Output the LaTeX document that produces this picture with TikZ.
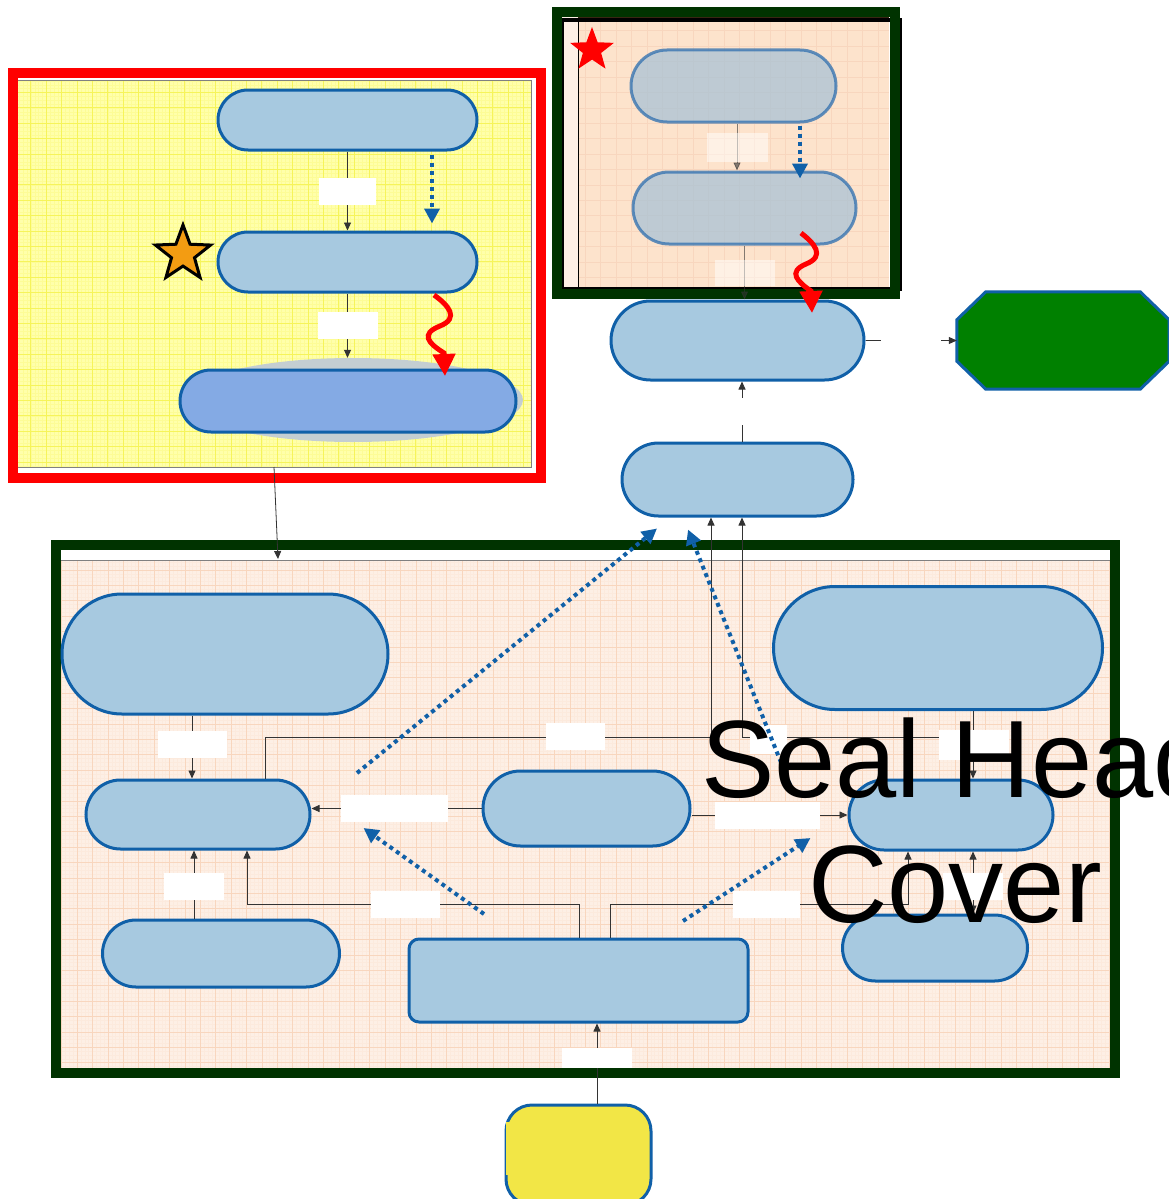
\documentclass[tikz,border=0pt]{standalone}
\usepackage{fontspec}
\setmainfont{Liberation Sans}
\usepackage{tikz}
\usetikzlibrary{arrows.meta,shapes.geometric}

\definecolor{nodefill}{HTML}{A7C9E0}
\definecolor{nodeline}{HTML}{1060A8}
\definecolor{deepfill}{HTML}{84AAE4}
\definecolor{shadowgray}{HTML}{C4CED2}
\definecolor{framegreen}{HTML}{003300}
\definecolor{octgreen}{HTML}{008000}
\definecolor{paleyellow}{HTML}{FFFFAA}
\definecolor{gridyellow}{HTML}{F6F45A}
\definecolor{peach}{HTML}{FDEFE5}
\definecolor{peachdark}{HTML}{FDE3CC}
\definecolor{gridpeach}{HTML}{F8D6BE}
\definecolor{starorange}{HTML}{F39C12}
\definecolor{termyellow}{HTML}{F2E646}
\definecolor{fadefill}{HTML}{A9C2D6}
\definecolor{fadeline}{HTML}{2F6FAF}

\begin{document}
\begin{tikzpicture}[x=1pt,y=-1pt]

\def\lw{3pt}
\def\fw{10pt} % <-- frame width
\def\cell{15.4pt}

\tikzset{
    stad/.style 2 args={
        shape=rectangle,
        draw=nodeline,
        fill=nodefill,
        line width=\lw,
        inner sep=0pt,
        minimum width=#1pt,
        minimum height=#2pt,
        rounded corners=#2*0.5pt
    },
    fadestad/.style 2 args={
        stad={#1}{#2},
        draw=fadeline,
        fill=fadefill,
        opacity=0.75
    },
    lbl/.style 2 args={
        fill=white,
        inner sep=0pt,
        minimum width=#1pt,
        minimum height=#2pt
    },
    fadelbl/.style 2 args={lbl={#1}{#2}, opacity=0.5},
    conn/.style={draw=black!80, line width=0.8pt, -{Triangle[length=8pt,width=7pt]}},
    dotarr/.style={
        draw=nodeline,
        line width=4pt,
        dash pattern=on 4pt off 4pt,
        -{Triangle[length=15pt,width=15pt]}
    },
    wave/.style={draw=red, line width=5pt, -{Triangle[length=22pt,width=22pt]}}
}

\useasboundingbox (0,0) rectangle (1169,1199);

% Yellow panel
\fill[paleyellow] (18,467) rectangle (531,80);
\draw[gridyellow!25!paleyellow, line width=0.3pt, step=\cell/4] (18,467) grid (531,80);
\draw[gridyellow, line width=0.8pt, step=\cell] (18,467) grid (531,80);
\draw[gray, line width=1pt] (18,80) -- (531,80) -- (531,467) -- (18,467);
\draw[red, line width=\fw] (13,73) rectangle (541,478);

% Top right panel
\fill[peachdark] (562,289) rectangle (889,17);
\fill[peach] (562,289) rectangle (578,17);
\draw[gridpeach, line width=0.6pt, step=\cell] (578,289) grid (889,22);
\draw[black, line width=0.8pt] (578,17) -- (578,289);
\fill[black!70!brown] (578,17) rectangle (889,22);
\draw[black, line width=4pt] (562,20) rectangle (900,289);
\draw[framegreen, line width=\fw] (557,12) rectangle (895,294);

% Bottom panel
\fill[peach] (61,1068) rectangle (1110,560);
\draw[gridpeach!20!peach, line width=0.3pt, step=\cell/4] (61,1068) grid (1110,560);
\draw[gridpeach, line width=0.6pt, step=\cell] (61,1068) grid (1110,560);
\draw[gray, line width=1pt] (61,560) -- (1110,560);
\draw[framegreen, line width=\fw] (56,545) rectangle (1115,1073);

% Yellow panel nodes
\node[stad={259}{60}] (prep) at (347.5,120) {};
\node[stad={259}{60}] (start) at (347.5,262) {};
\node[ellipse, fill=shadowgray, inner sep=0pt, minimum width=340pt, minimum height=84pt] (runsh) at (353,400) {};
\node[stad={336}{62}, fill=deepfill] (run) at (348,401) {};
\node[star, star points=5, star point ratio=2.4, minimum size=58pt, inner sep=0pt,
      fill=starorange, draw=black, line width=3pt] (mark) at (183,254) {};

\draw[conn] (prep) -- node[lbl={57}{27}] (lPS) {} (start);
\draw[conn] (start.south) -- node[lbl={60}{27}] (lSR) {} (start.south |- runsh.north);
\draw[dotarr, shorten <=3pt] ([xshift=84.5pt]prep.south) -- ([shift={(84.5,-7)}]start.north);

% Top right nodes
\node[star, star points=5, star point ratio=2.4, minimum size=46pt, inner sep=0pt, fill=red] (flag) at (592,50) {};
\node[fadestad={205}{72}] (seat) at (733.5,86) {};
\node[fadestad={223}{72}] (press) at (744.5,208) {};
\node[stad={253}{79}] (fit) at (737.5,340.5) {};
\node[stad={231}{73}] (check) at (737.5,479.5) {};
\node[minimum width=212pt, minimum height=97pt, inner sep=0pt] (done) at (1063,340.5) {};
\draw[draw=nodeline, fill=octgreen, line width=\lw]
    ([xshift=29pt]done.north west) -- ([xshift=-29pt]done.north east)
    -- ([yshift=-28pt]done.north east) -- ([yshift=28pt]done.south east)
    -- ([xshift=-29pt]done.south east) -- ([xshift=29pt]done.south west)
    -- ([yshift=28pt]done.south west) -- ([yshift=-28pt]done.north west) -- cycle;

\draw[conn, opacity=0.6] ([xshift=3.5pt]seat.south) -- node[fadelbl={61}{29}] (lSP) {} ([xshift=3.5pt]seat.south |- press.north);
\draw[dotarr, shorten <=2pt] ([xshift=66.5pt]seat.south) -- ([shift={(55.5,8)}]press.north);
\draw[conn, opacity=0.6] (press.south) -- node[fadelbl={60}{26}] (lPF) {} (press.south |- fit.north);
\draw[conn] (fit.east) -- node[lbl={60}{30}] (lFD) {} (done.west);
\draw[conn] ([xshift=4.5pt]check.north) -- node[lbl={40}{27}] (lCF) {} ([xshift=4.5pt]check.north |- fit.south);

% Bottom panel nodes
\node[stad={326}{120}] (body) at (225,654) {};
\node[stad={329}{123}] (cover) at (938,648) {};
\node[stad={224}{69}] (weld) at (198,814.5) {};
\node[stad={207}{75}] (trim) at (586.5,808.5) {};
\node[stad={204}{70}] (bolt) at (951,815) {};
\node[stad={237}{67}] (ring) at (221,953.5) {};
\node[draw=nodeline, fill=nodefill, line width=\lw, rounded corners=10pt,
      minimum width=339pt, minimum height=83pt] (stock) at (578.5,980.5) {};
\node[stad={185}{66}] (gasket) at (935,948) {};
\node[draw=nodeline, fill=termyellow, line width=\lw, rounded corners=26pt,
      minimum width=145pt, minimum height=100pt] (feed) at (578.5,1155) {};
\fill[termyellow] (506,1122) rectangle (513,1175);

% Connectors
\coordinate (yelOut) at (274,467);
\coordinate (botIn) at (278,559);
\draw[conn] (yelOut) -- (botIn);

\draw[conn] ([xshift=-33pt]body.south) -- node[lbl={69}{27}, pos=0.46] (lBW) {} ([xshift=-33pt]body.south |- weld.north);
\draw[conn] (trim.west) -- node[lbl={107}{27}, pos=0.51] (lTW) {} (trim.west -| weld.east);
\draw[conn] (bolt.west -| trim.east) -- node[lbl={105}{27}, pos=0.49] (lTB) {} (bolt.west);
\draw[conn] ([xshift=-27pt]ring.north) -- node[lbl={60}{27}, pos=0.47] (lRW) {} ([xshift=-27pt]ring.north |- weld.south);

\coordinate (swBend) at (247,904);
\draw[conn] ([xshift=0.5pt]stock.north) |- (swBend) -- (swBend |- weld.south);
\coordinate (sbBend) at (908,904);
\draw[conn] ([xshift=31.5pt]stock.north) |- (sbBend) -- (sbBend |- bolt.south);

\draw[conn, {Triangle[length=8pt,width=7pt]}-{Triangle[length=8pt,width=7pt]}]
    ([xshift=38pt]gasket.north) -- ([xshift=38pt]gasket.north |- bolt.south);
\draw[conn] ([xshift=35pt]cover.south) -- ([xshift=35pt]cover.south |- bolt.north);

\coordinate (cvBend) at (742,737);
\draw[conn] ([xshift=35pt]cover.south |- cvBend) -- (cvBend) -- (cvBend |- check.south);
\coordinate (wcBendA) at (265,737);
\coordinate (wcBendB) at (711,737);
\draw[conn] (wcBendA |- weld.north) -- (wcBendA) -- (wcBendB) -- (wcBendB |- check.south);

\draw[conn] ([xshift=18.5pt]feed.north) -- node[lbl={70}{20}, pos=0.57] (lFS) {} ([xshift=18.5pt]feed.north |- stock.south);

% Labels on bends
\node[lbl={69}{27}] (lSW) at (405.5,904.5) {};
\node[lbl={67}{27}] (lSB) at (766.5,904.5) {};
\node[lbl={60}{27}] (lGB) at (973,886) {};
\node[lbl={70}{30}] (lCB) at (974,745) {};
\node[lbl={59}{27}] (lWC) at (575.5,736.5) {};
\node[lbl={37}{29}] (lCC) at (768.5,739.5) {};

% Dotted arrows
\coordinate (dA) at (357,773);
\coordinate (dB) at (790,785);
\coordinate (dC) at (484,914);
\coordinate (dD) at (683,921);
\draw[dotarr] (dA) -- ([shift={(-80.5,11)}]check.south);
\draw[dotarr] (dB) -- ([shift={(-49.5,12)}]check.south);
\draw[dotarr] (dC) -- ([shift={(52,13.5)}]weld.east);
\draw[dotarr] (dD) -- ([shift={(-37,23)}]bolt.west);

% Red waves
\coordinate (wA) at (434,295);
\coordinate (wB) at (801,233);
\draw[wave] (wA) .. controls (448,305) and (460,318) .. (440,326)
    .. controls (420,334) and (428,343) .. (444,353) -- (445,376);
\draw[wave] (wB) .. controls (814,243) and (826,256) .. (806,264)
    .. controls (787,272) and (798,282) .. (811,291) -- (812,313);

% Big text
\node[anchor=base, font=\fontsize{110}{125}\selectfont] (sealA) at (958,797) {Seal Head};
\node[anchor=base, font=\fontsize{110}{125}\selectfont] (sealB) at (955,922) {Cover};

\end{tikzpicture}
\end{document}
